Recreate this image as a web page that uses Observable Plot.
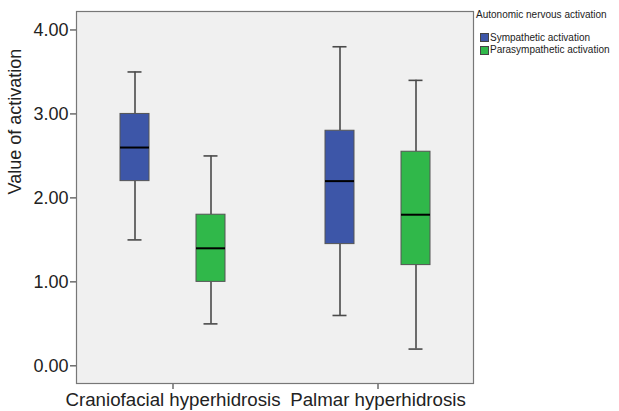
<!DOCTYPE html>
<html>
<head>
<meta charset="utf-8">
<script src="https://cdn.jsdelivr.net/npm/d3@7"></script>
<script src="https://cdn.jsdelivr.net/npm/@observablehq/plot@0.6"></script>
<style>
  html, body { margin: 0; padding: 0; background: #fff; }
  #wrap { position: relative; width: 619px; height: 411px; font-family: "Liberation Sans", Arial, Helvetica, sans-serif; }
  #legend { position: absolute; left: 476px; top: 9px; font-size: 10px; color: #222; line-height: 12.5px; white-space: nowrap; }
  #legend .title { margin-bottom: 10px; }
  #legend .row { display: flex; align-items: center; }
  #legend .sw { width: 7px; height: 7px; border: 1px solid #444; margin-left: 4px; margin-right: 1px; }
  g[aria-label="x-axis tick label"] text, g[aria-label="x-axis"] text { font-size: 18.7px; }
</style>
</head>
<body>
<div id="wrap"></div>
<script>
const categories = ["Craniofacial hyperhidrosis", "Palmar hyperhidrosis"];
const groups = ["Sympathetic activation", "Parasympathetic activation"];
const groupColors = ["#3d56a8", "#30b84a"];
// [min, q1, median, q3, max] per category
const sympatheticStats = [[1.50, 2.20, 2.60, 3.00, 3.50], [0.60, 1.45, 2.20, 2.80, 3.80]];
const parasympatheticStats = [[0.50, 1.00, 1.40, 1.80, 2.50], [0.20, 1.20, 1.80, 2.55, 3.40]];
const yTicks = [0, 1, 2, 3, 4];
const yLabel = "Value of activation";
const legendTitle = "Autonomic nervous activation";

function rows(group, stats) {
  return categories.map((c, i) => ({
    category: c, group,
    min: stats[i][0], q1: stats[i][1], median: stats[i][2], q3: stats[i][3], max: stats[i][4]
  }));
}
const table = [...rows(groups[0], sympatheticStats), ...rows(groups[1], parasympatheticStats)];

function boxMarks(group, dx) {
  const d = table.filter(r => r.group === group);
  return [
    Plot.ruleX(d, {x: "category", y1: "min", y2: "q1", dx, stroke: "#4a4a4a", strokeWidth: 1.6}),
    Plot.ruleX(d, {x: "category", y1: "q3", y2: "max", dx, stroke: "#4a4a4a", strokeWidth: 1.6}),
    Plot.tickY(d, {x: "category", y: "min", dx, stroke: "#4a4a4a", strokeWidth: 1.6, insetLeft: 7.5, insetRight: 7.5}),
    Plot.tickY(d, {x: "category", y: "max", dx, stroke: "#4a4a4a", strokeWidth: 1.6, insetLeft: 7.5, insetRight: 7.5}),
    Plot.barY(d, {x: "category", y1: "q1", y2: "q3", dx, fill: "group", stroke: "#555", strokeWidth: 1}),
    Plot.tickY(d, {x: "category", y: "median", dx, stroke: "#000", strokeWidth: 2})
  ];
}

const chart = Plot.plot({
  width: 619,
  height: 411,
  marginLeft: 76,
  marginRight: 146,
  marginTop: 11,
  marginBottom: 28,
  style: {fontFamily: "Liberation Sans, Arial, Helvetica, sans-serif", fontSize: "18px", color: "#222", background: "#fff"},
  x: {domain: categories, paddingInner: 0.859, paddingOuter: 0.395, label: null, tickSize: 6, tickPadding: 3},
  y: {domain: [-0.21, 4.22], ticks: yTicks, tickFormat: d3.format(".2f"), tickSize: 6, tickPadding: 2, label: null},
  color: {domain: groups, range: groupColors},
  marks: [
    Plot.frame({fill: "#f0f0f0", stroke: "#777", strokeWidth: 1.2}),
    ...boxMarks(groups[0], -38),
    ...boxMarks(groups[1], 38),
    Plot.text([yLabel], {text: d => d, frameAnchor: "left", rotate: -90, dx: -61, dy: -3, fill: "#222", fontSize: 18})
  ]
});

const wrap = document.getElementById("wrap");
wrap.appendChild(chart);

const legend = document.createElement("div");
legend.id = "legend";
legend.innerHTML = `<div class="title">${legendTitle}</div>` +
  groups.map((g, i) => `<div class="row"><span class="sw" style="background:${groupColors[i]}"></span><span>${g}</span></div>`).join("");
wrap.appendChild(legend);
</script>
</body>
</html>
